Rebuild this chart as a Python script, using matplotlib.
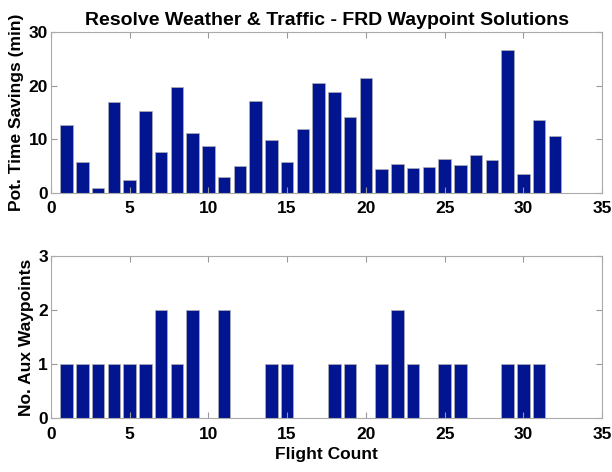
import numpy as np
import matplotlib
matplotlib.use('Agg')
import matplotlib.pyplot as plt

# Dados: potencial de economia de tempo por voo e numero de waypoints auxiliares
voos = np.arange(1, 33)
economia = [12.7, 5.7, 1.0, 17.0, 2.4, 15.2, 7.6, 19.8, 11.1, 8.7, 3.0, 5.0,
            17.2, 9.9, 5.8, 12.0, 20.6, 18.9, 14.2, 21.5, 4.4, 5.5, 4.6, 4.8,
            6.4, 5.2, 7.0, 6.1, 26.6, 3.5, 13.7, 10.7]
waypoints = [1, 1, 1, 1, 1, 1, 2, 1, 2, 0, 2, 0, 0, 1, 1, 0, 0, 1, 1, 0,
             1, 2, 1, 0, 1, 1, 0, 0, 1, 1, 1, 0]

plt.rcParams['font.family'] = ['Liberation Sans', 'DejaVu Sans']
plt.rcParams['font.weight'] = 'bold'

cor = '#00158f'
fig = plt.figure(figsize=(6.12, 4.72), dpi=100)
ax1 = fig.add_axes([0.083, 0.591, 0.901, 0.341])
ax2 = fig.add_axes([0.083, 0.114, 0.901, 0.344])

ax1.bar(voos, economia, width=0.8, color=cor, edgecolor='#b0b0b0', linewidth=0.5)
ax2.bar(voos, waypoints, width=0.8, color=cor, edgecolor='#b0b0b0', linewidth=0.5)

ax1.set_ylim(0, 30)
ax1.set_yticks([0, 10, 20, 30])
ax2.set_ylim(0, 3)
ax2.set_yticks([0, 1, 2, 3])

for ax in (ax1, ax2):
    ax.set_xlim(0, 35)
    ax.set_xticks(np.arange(0, 36, 5))
    ax.tick_params(direction='in', top=True, right=True, labelsize=12.5,
                   color='#999999', length=4)
    ax.tick_params(axis='x', pad=6)
    ax.tick_params(axis='y', pad=2)
    for s in ax.spines.values():
        s.set_color('#aaaaaa')
    for lb in ax.get_xticklabels() + ax.get_yticklabels():
        lb.set_fontweight('bold')

ax1.set_title('Resolve Weather & Traffic - FRD Waypoint Solutions',
              fontsize=14, fontweight='bold', pad=5)
ax1.set_ylabel('Pot. Time Savings (min)', fontsize=12.5, fontweight='bold', labelpad=3)
ax2.set_ylabel('No. Aux Waypoints', fontsize=12.5, fontweight='bold', labelpad=3)
ax2.set_xlabel('Flight Count', fontsize=12.5, fontweight='bold', labelpad=4)

fig.savefig('out.png', dpi=100)
